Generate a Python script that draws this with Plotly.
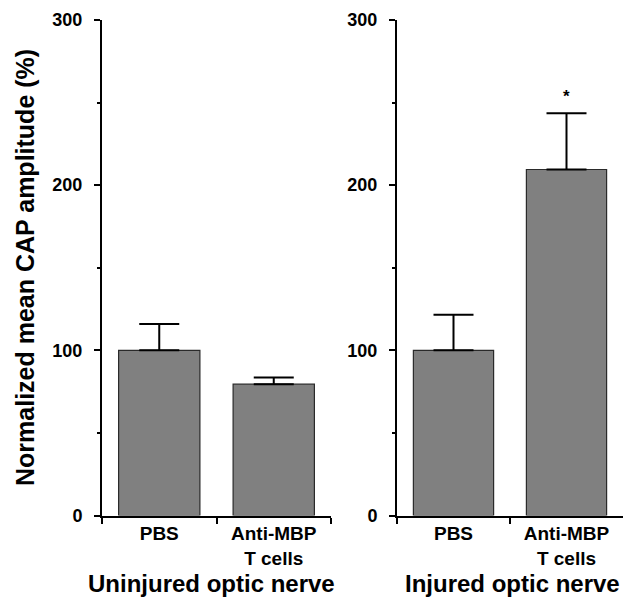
import plotly.graph_objects as go

categories = ["PBS", "Anti-MBP<br>T cells"]
uninjured_values = [100, 79.5]
uninjured_errors = [16, 4]
injured_values = [100, 209.5]
injured_errors = [21.5, 34]
panel_titles = ["Uninjured optic nerve", "Injured optic nerve"]
y_title = "Normalized mean CAP amplitude (%)"
y_ticks = [0, 100, 200, 300]

FONT = "Liberation Sans, Arial, sans-serif"
bar_color = "#808080"
edge_color = "#2a2a2a"

fig = go.Figure()
for vals, errs, xa, ya in [(uninjured_values, uninjured_errors, "x", "y"),
                           (injured_values, injured_errors, "x2", "y2")]:
    fig.add_trace(go.Bar(
        x=categories, y=vals, xaxis=xa, yaxis=ya, width=0.71,
        marker=dict(color=bar_color, line=dict(color=edge_color, width=1.2)),
        error_y=dict(type="data", array=errs, symmetric=False, arrayminus=[0, 0],
                     color="black", thickness=2, width=20),
        showlegend=False,
    ))

W, H = 623, 598
xl = [102 / W, 331 / W]
xr = [397 / W, 1.0]
yd = [1 - 515.5 / H, 1 - 20 / H]

def yaxis_common(anchor):
    return dict(range=[0, 300], domain=yd, anchor=anchor, tickvals=y_ticks,
                ticks="outside", ticklen=6, tickwidth=1.5, tickcolor="black",
                showline=True, linecolor="black", linewidth=2, showgrid=False,
                zeroline=False, ticklabelstandoff=8, automargin=False,
                tickfont=dict(family=FONT, size=18, color="black", weight="bold"),
                minor=dict(dtick=50, ticks="outside", ticklen=3, tickwidth=1.5,
                           tickcolor="black", showgrid=False))

def xaxis_common(anchor, dom):
    return dict(domain=dom, anchor=anchor, type="category", range=[-0.5, 1.5],
                tickson="boundaries", ticks="outside", ticklen=6, tickwidth=1.5,
                tickcolor="black", showline=True, linecolor="black", linewidth=2,
                showgrid=False, zeroline=False, automargin=False,
                tickfont=dict(family=FONT, size=19, color="black", weight="bold"))

fig.update_layout(
    width=W, height=H, margin=dict(l=0, r=0, t=0, b=0, autoexpand=False),
    plot_bgcolor="white", paper_bgcolor="white",
    xaxis=xaxis_common("y", xl),
    xaxis2=xaxis_common("y2", xr),
    yaxis=yaxis_common("x"),
    yaxis2=yaxis_common("x2"),
)

fig.add_annotation(x=25 / W, y=1 - 268 / H, xref="paper", yref="paper",
                   xanchor="center", yanchor="middle",
                   text=y_title, textangle=-90, showarrow=False,
                   font=dict(family=FONT, size=25, color="black", weight="bold"))
fig.add_annotation(x=211.5 / W, y=1 - 583 / H, xref="paper", yref="paper",
                   xanchor="center", yanchor="middle",
                   text=panel_titles[0], showarrow=False,
                   font=dict(family=FONT, size=24, color="black", weight="bold"))
fig.add_annotation(x=512 / W, y=1 - 583 / H, xref="paper", yref="paper",
                   xanchor="center", yanchor="middle",
                   text=panel_titles[1], showarrow=False,
                   font=dict(family=FONT, size=24, color="black", weight="bold"))
fig.add_annotation(x=categories[1], y=injured_values[1] + injured_errors[1] + 10,
                   xref="x2", yref="y2", text="*", showarrow=False,
                   font=dict(family=FONT, size=17, color="black", weight="bold"))

fig.write_html("out.html", config={"displayModeBar": False},
               post_script="document.body.style.margin='0';")
